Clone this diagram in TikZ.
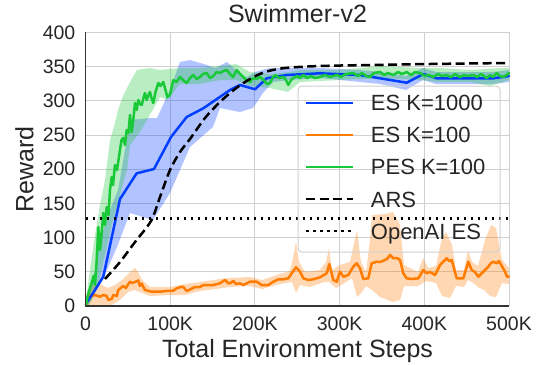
\documentclass[tikz,border=0pt]{standalone}
\usepackage{fontspec}
\setmainfont{Liberation Sans}
\definecolor{cblue}{HTML}{023EFF}
\definecolor{corange}{HTML}{FF7C00}
\definecolor{cgreen}{HTML}{1AC938}
\definecolor{gridgray}{HTML}{D0D0D0}
\definecolor{spinegray}{HTML}{333333}
\definecolor{txt}{HTML}{262626}
\tikzset{
  gridline/.style={draw=gridgray, line width=1pt},
  spineline/.style={draw=spinegray, line width=1.3pt},
  curve/.style={line width=2.5pt, line join=round, line cap=round},
  bluecurve/.style={curve, draw=cblue},
  orangecurve/.style={curve, draw=corange},
  greencurve/.style={curve, draw=cgreen},
  arscurve/.style={draw=black, line width=2.5pt, dash pattern=on 9pt off 4.5pt},
  oaicurve/.style={draw=black, line width=2.5pt, dash pattern=on 2.5pt off 4.5pt},
  band/.style={fill opacity=0.3, draw=none},
  ticklab/.style={text=txt, inner sep=0pt, font=\fontsize{19.5}{22}\selectfont},
  biglab/.style={text=txt, inner sep=0pt, font=\fontsize{25}{28}\selectfont},
  leglab/.style={text=txt, inner sep=0pt, anchor=base west, font=\fontsize{22}{25}\selectfont},
  legframe/.style={draw=gridgray, line width=1pt, rounded corners=4pt},
}
\begin{document}
\begin{tikzpicture}[x=1pt,y=-1pt]
\useasboundingbox (0,0) rectangle (548,364);
\fill[white] (0,0) rectangle (548,364);
% grid
\foreach \gx in {85.5,170.2,254.9,339.6,424.3,509} \draw[gridline] (\gx,32.4) -- (\gx,306);
\foreach \gy in {32.4,66.6,100.8,135,169.2,203.4,237.6,271.8} \draw[gridline] (85.5,\gy) -- (509,\gy);
% bands
\fill[band, fill=cblue] plot coordinates {(86,300) (95,270) (100,240) (110,210) (118,190) (125,150) (130,120) (150,118) (157,118) (170,90) (180,62) (190,60) (207,65) (215,68) (227,62) (236,70) (245,78) (255,72) (270,68) (290,68) (320,68) (360,70) (380,72) (406,76) (423,68) (436,72) (460,72) (493,72) (509,70)
 (509,82) (493,84) (460,84) (436,84) (423,80) (406,90) (380,84) (360,82) (320,78) (290,80) (273,82) (263,93) (253,108) (240,112) (220,108) (213,127) (190,147) (170,193) (153,220) (130,213) (117,247) (107,270) (93,297) (88,306) (86,306)} -- cycle;
\fill[band, fill=corange] plot coordinates {(86,296) (92,285) (100,284) (108,288) (115,285) (122,280) (130,272) (135,268) (138,272) (142,280) (150,287) (170,287) (185,284) (200,282) (220,279) (230,278) (250,277) (262,280) (280,274) (290,271) (293,258) (296,242) (299,262) (305,272) (320,270) (326,262) (329,248) (332,270) (340,265) (350,262) (357,230) (361,262) (366,272) (370,240) (372,215) (385,214) (393,212) (400,225) (404,265) (418,272) (423,258) (428,268) (436,266) (442,238) (446,232) (452,245) (456,270) (464,270) (468,250) (472,262) (478,266) (485,240) (491,225) (496,228) (502,260) (509,268)
 (509,284) (502,283) (496,297) (490,296) (484,290) (478,287) (472,282) (468,280) (464,287) (456,286) (450,298) (442,296) (436,283) (426,281) (418,286) (404,286) (400,300) (393,302) (380,297) (372,290) (366,286) (362,292) (357,297) (352,278) (343,284) (336,288) (329,282) (324,282) (310,287) (300,285) (296,293) (292,282) (280,284) (262,289) (250,286) (230,287) (200,291) (185,295) (170,295) (150,296) (142,293) (135,290) (128,292) (120,300) (110,306) (100,306) (86,306)} -- cycle;
\fill[band, fill=cgreen] plot coordinates {(86,300) (90,270) (95,235) (100,205) (105,180) (110,140) (114,127) (118,110) (123,96) (130,82) (137,70) (150,68) (160,70) (180,68) (200,68) (220,66) (236,64) (250,72) (270,74) (290,72) (300,70) (340,70) (380,66) (420,68) (440,68) (470,70) (500,68) (509,68)
 (509,80) (490,86) (470,82) (440,82) (420,80) (380,78) (340,80) (300,82) (288,92) (270,88) (250,86) (236,80) (220,80) (200,84) (180,84) (167,100) (160,97) (147,120) (140,132) (130,145) (127,170) (120,195) (113,220) (105,255) (98,285) (92,300) (88,306) (86,306)} -- cycle;
% curves
\draw[orangecurve] plot coordinates {(86,305) (88.3,295) (92,296) (95,295) (100,296.7) (103.3,295) (106.7,296) (108.3,300) (111.7,299) (113.3,295) (116.7,296) (118.3,290) (123.3,286) (126,288) (128.3,284) (130,281.7) (132,283) (135,282) (138.3,280.5) (140,286) (141.7,283.5) (145,290) (151.7,291.7) (160,291.7) (166,291) (173.3,290.7) (176.7,288.3) (181.7,286.7) (183.3,287) (186.7,291) (190,289.5) (195,287) (200,287) (203.3,285) (210,285) (213.3,285) (220,283.3) (225,280) (228,283) (230,283.3) (233.3,281) (236,284) (240,283.3) (243.3,285) (250,281.7) (256.7,281.7) (261.7,285) (268.3,285) (273.3,281.7) (278.3,279.3) (283.3,279.3) (288.3,278.3) (291.7,273.3) (296,267.3) (300,271.7) (303.3,278.3) (308.3,280) (313.3,279.3) (320,277.3) (326.7,273.3) (329.3,264) (333.3,280) (336.7,281.7) (340,271.7) (343.3,276.7) (348.3,275) (353.3,266.7) (356.7,263.3) (360,268.3) (363.3,279) (368.3,278.3) (371.7,263.3) (376.7,261.7) (380,262) (383.3,260.7) (387,259) (390,255) (393.3,258.3) (397,258) (400,260) (403.3,273.3) (406.7,278.3) (412,279) (418.3,278.3) (423.3,270) (426.7,273.3) (430,272) (435,275) (440,265) (446.7,258.3) (449,261) (451.7,260) (456.7,278.3) (463.3,278.3) (468.3,261.7) (471.7,270) (475,272) (478.3,276.7) (483.3,271.7) (488.3,266.7) (491,263) (493.3,261.7) (496.7,263.3) (499,261) (505,271.7) (507,276.7) (509,276.7)};
\draw[bluecurve] plot coordinates {(87,302) (95,290) (103.3,276.7) (120,199) (136.7,173.3) (154,169) (171,137) (186.7,117) (203.3,108.3) (230,90) (240,85) (255,89.3) (266.7,78.3) (286.7,75) (320,73.3) (360,75) (380,78.3) (406.7,82.7) (423.3,74) (436.7,78.3) (460,78.3) (493.3,78.3) (509,76)};
\draw[greencurve] plot coordinates {(86,305) (88,295) (90,288) (92,282) (93.5,276) (95,285) (96.7,260) (98.3,227) (100,250) (101.5,235) (103.3,213) (105,225) (106.7,207) (108.5,215) (110,190) (111.7,177) (113,185) (115,165) (117,170) (120,150) (121.5,140) (123.3,138) (125,145) (126.7,130) (128.5,133) (130,115) (131.7,132) (133.5,118) (135,103) (136.7,110) (138.3,100) (140,104) (141.7,105) (143.5,98) (145,93) (146.7,100) (148.5,95) (150,92) (151.5,98) (153.3,103) (155.5,92) (158.3,83) (160.5,86) (163.3,82) (165.5,90) (167.3,97) (170,95) (171.5,88) (173.3,80) (176.5,82) (180,77) (183,80) (186.7,83) (190,78) (193.3,75) (196.5,79) (200,77) (203,74) (206.7,73) (210,78) (213.3,76) (216.5,72) (220,73) (223.5,71) (226.7,70) (230,74) (233,77) (236.7,70) (240,74) (243.3,77) (246.5,80) (250,82) (253,78) (256.5,79) (260,77) (263.5,80) (267,84) (270,83) (272.5,78) (275,75) (279,78) (283.3,77) (286,80) (288.3,85) (291,80) (293.3,78) (297,76) (300,78) (303.3,75) (307,78) (311,76) (315,78) (320,77) (325,75) (330,77) (336.7,75) (341,77) (346,74) (353.3,73) (358,76) (362,73) (366,76) (370,77) (374,73) (380,72) (384,75) (388,73) (393.3,75) (398,72) (402,74) (406.7,72) (411,75) (415,72) (420,73) (425,76) (429,75) (433.3,77) (438,74) (442,76) (446.7,75) (451,77) (455,74) (460,77) (464,75) (468,76) (473.3,75) (477,77) (481,74) (486.7,78) (490,75) (493,77) (496.7,73) (500,76) (503,77) (506.7,75) (509,73)};
\draw[arscurve] plot[smooth, tension=0.5] coordinates {(105,279) (120,262) (135,242) (151,221) (160,197) (170,170) (180,152) (190,139) (205,118) (220,102) (235,89) (250,79) (265,72) (285,68) (320,66) (370,65) (430,64) (509,63)};
\draw[oaicurve] (85.5,218.4) -- (509,218.4);
% spines
\draw[spineline] (85.5,32.4) -- (85.5,306) -- (509,306);
% tick labels
\foreach \v/\gy [count=\i] in {0/306,50/271.8,100/237.6,150/203.4,200/169.2,250/135,300/100.8,350/66.6,400/32.4}
  \node[ticklab, anchor=east] (yt\i) at (75.5,\gy) {\v};
\foreach \v/\gx [count=\i] in {0/85.5,100K/170.2,200K/254.9,300K/339.6,400K/424.3,500K/509}
  \node[ticklab, anchor=base] (xt\i) at (\gx,330) {\v};
\node[biglab, anchor=base] (title) at (297.5,22.7) {Swimmer-v2};
\node[biglab, anchor=base] (xlabel) at (297.5,357.3) {Total Environment Steps};
\node[biglab, anchor=base, rotate=90] (ylabel) at (33.3,169.5) {Reward};
% legend
\draw[legframe] (298,86) rectangle (500,252);
\coordinate (l1a) at (306,102.8); \coordinate (l1b) at (353,102.8);
\coordinate (l2a) at (306,134.9); \coordinate (l2b) at (353,134.9);
\coordinate (l3a) at (306,167); \coordinate (l3b) at (353,167);
\coordinate (l4a) at (306,199.1); \coordinate (l4b) at (353,199.1);
\coordinate (l5a) at (306,231.2); \coordinate (l5b) at (353,231.2);
\draw[bluecurve, line cap=butt] (l1a) -- (l1b);
\draw[orangecurve, line cap=butt] (l2a) -- (l2b);
\draw[greencurve, line cap=butt] (l3a) -- (l3b);
\draw[arscurve] (l4a) -- (l4b);
\draw[oaicurve] (l5a) -- (l5b);
\node[leglab] (lg1) at (370.7,110.7) {ES K=1000};
\node[leglab] (lg2) at (370.7,142.8) {ES K=100};
\node[leglab] (lg3) at (370.7,174.9) {PES K=100};
\node[leglab] (lg4) at (370.7,207) {ARS};
\node[leglab] (lg5) at (370.7,239.1) {OpenAI ES};
\end{tikzpicture}
\end{document}
